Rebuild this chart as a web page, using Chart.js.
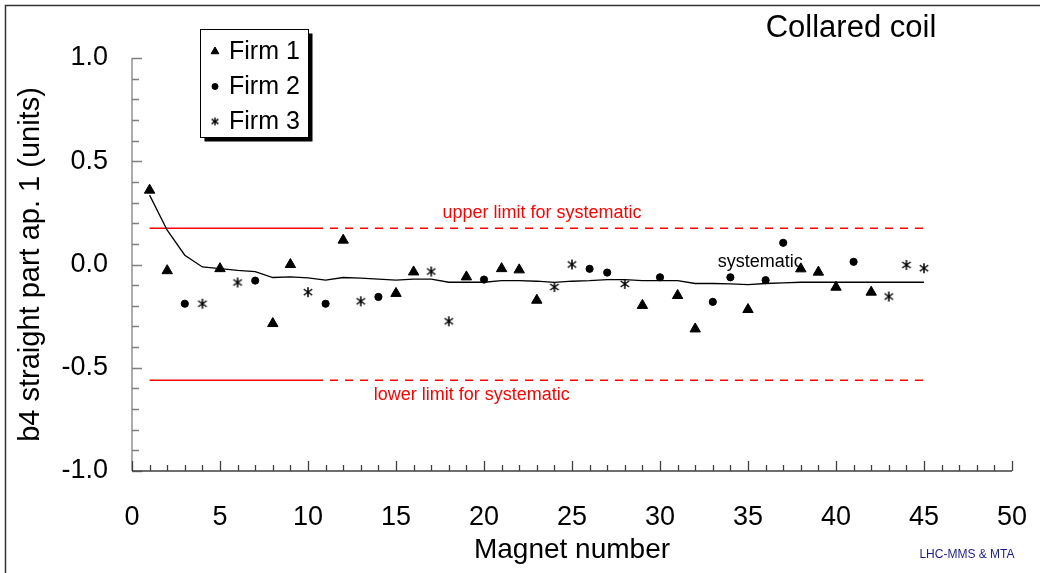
<!DOCTYPE html>
<html>
<head>
<meta charset="utf-8">
<script src="https://cdn.jsdelivr.net/npm/chart.js@4/dist/chart.umd.min.js"></script>
<style>
  html, body { margin: 0; padding: 0; background: #fff; }
  #wrap { width: 1040px; height: 573px; }
</style>
</head>
<body>
<div id="wrap"><canvas id="chart"></canvas></div>
<script>
// b4 per magnet, one pair of arrays per firm
const firm1Magnets = [1, 2, 5, 8, 9, 12, 15, 16, 19, 21, 22, 23, 29, 31, 32, 35, 38, 39, 40, 42];
const firm1B4 = [0.36, -0.03, -0.02, -0.286, 0.0, 0.118, -0.14, -0.036, -0.06, -0.02, -0.026, -0.173, -0.198, -0.15, -0.312, -0.218, -0.021, -0.037, -0.11, -0.134];

const firm2Magnets = [3, 7, 11, 14, 20, 26, 27, 30, 33, 34, 36, 37, 41];
const firm2B4 = [-0.19, -0.078, -0.19, -0.157, -0.073, -0.021, -0.039, -0.062, -0.181, -0.062, -0.076, 0.105, 0.013];

const firm3Magnets = [4, 6, 10, 13, 17, 18, 24, 25, 28, 43, 44, 45];
const firm3B4 = [-0.19, -0.087, -0.134, -0.178, -0.034, -0.275, -0.109, 0.0, -0.094, -0.155, -0.002, -0.018];

// running systematic (mean) curve
const systematicMagnets = [1, 2, 3, 4, 5, 6, 7, 8, 9, 10, 11, 12, 13, 14, 15, 16, 17, 18, 19, 20, 21, 22, 23,
  24, 25, 26, 27, 28, 29, 30, 31, 32, 33, 34, 35, 36, 37, 38, 39, 40, 41, 42, 43, 44, 45];
const systematicB4 = [0.336, 0.166, 0.045, -0.012, -0.02, -0.028, -0.034, -0.063, -0.06, -0.065, -0.076, -0.063,
  -0.066, -0.071, -0.076, -0.071, -0.071, -0.086, -0.086, -0.086, -0.078, -0.078, -0.081, -0.087, -0.081,
  -0.078, -0.073, -0.073, -0.078, -0.078, -0.078, -0.092, -0.092, -0.094, -0.097, -0.092, -0.089, -0.086,
  -0.086, -0.086, -0.086, -0.086, -0.086, -0.086, -0.086];

// limits for systematic
const upperLimit = 0.175;
const lowerLimit = -0.56;
const limitSolidMagnets = [1, 10.4];
const limitDashedMagnets = [10.4, 45];

const FONT = "'Liberation Sans', Arial, sans-serif";

function toPoints(xs, ys) {
  return xs.map((x, i) => ({ x: x, y: ys[i] }));
}

// asterisk marker used for Firm 3 (vertical bar plus an X)
function makeStar(size, lw) {
  const c = document.createElement("canvas");
  c.width = size;
  c.height = size;
  const g = c.getContext("2d");
  const m = size / 2;
  const r = size / 2 - 1;
  g.strokeStyle = "#000";
  g.lineWidth = lw;
  g.beginPath();
  g.moveTo(m, m - r);
  g.lineTo(m, m + r);
  g.moveTo(m - r * 0.85, m - r * 0.6);
  g.lineTo(m + r * 0.85, m + r * 0.6);
  g.moveTo(m + r * 0.85, m - r * 0.6);
  g.lineTo(m - r * 0.85, m + r * 0.6);
  g.stroke();
  return c;
}
const starMarker = makeStar(12, 1.5);
const starLegend = makeStar(10, 1.3);

// outer frame of the picture
const framePlugin = {
  id: "frame",
  beforeDraw(chart) {
    const ctx = chart.ctx;
    ctx.save();
    ctx.fillStyle = "#fff";
    ctx.fillRect(0, 0, chart.width, chart.height);
    ctx.strokeStyle = "#333";
    ctx.lineWidth = 1.5;
    ctx.beginPath();
    ctx.moveTo(5.5, chart.height);
    ctx.lineTo(5.5, 5.5);
    ctx.lineTo(chart.width, 5.5);
    ctx.stroke();
    ctx.restore();
  },
};

// axis lines with inward ticks
const axesPlugin = {
  id: "axesInside",
  beforeDatasetsDraw(chart) {
    const ctx = chart.ctx;
    const xs = chart.scales.x;
    const ys = chart.scales.y;
    const a = chart.chartArea;
    ctx.save();
    ctx.lineWidth = 1.3;

    ctx.strokeStyle = "#808080";
    ctx.beginPath();
    ctx.moveTo(a.left, a.top);
    ctx.lineTo(a.left, a.bottom);
    for (let k = -10; k <= 10; k++) {
      const py = Math.round(ys.getPixelForValue(k / 10)) + 0.5;
      const len = k % 5 === 0 ? 10 : 7;
      ctx.moveTo(a.left, py);
      ctx.lineTo(a.left + len, py);
    }
    ctx.stroke();

    ctx.strokeStyle = "#404040";
    ctx.beginPath();
    ctx.moveTo(a.left, a.bottom);
    ctx.lineTo(a.right, a.bottom);
    for (let k = 0; k <= 50; k++) {
      const px = Math.round(xs.getPixelForValue(k)) + 0.5;
      const len = k % 5 === 0 ? 10 : 6;
      ctx.moveTo(px, a.bottom);
      ctx.lineTo(px, a.bottom - len);
    }
    ctx.stroke();
    ctx.restore();
  },
};

// text notes on the plot
const notesPlugin = {
  id: "notes",
  afterDatasetsDraw(chart) {
    const ctx = chart.ctx;
    const xs = chart.scales.x;
    const ys = chart.scales.y;
    ctx.save();
    ctx.textAlign = "center";
    ctx.textBaseline = "middle";

    ctx.font = "18px " + FONT;
    ctx.fillStyle = "#ff0000";
    ctx.fillText("upper limit for systematic", xs.getPixelForValue(23.3), ys.getPixelForValue(0.249));
    ctx.fillText("lower limit for systematic", xs.getPixelForValue(19.3), ys.getPixelForValue(-0.634));

    ctx.fillStyle = "#000";
    ctx.fillText("systematic", xs.getPixelForValue(35.7), ys.getPixelForValue(0.013));

    ctx.font = "31px " + FONT;
    ctx.fillText("Collared coil", 851, 28);

    ctx.font = "12px " + FONT;
    ctx.fillStyle = "#1c1c8c";
    ctx.fillText("LHC-MMS & MTA", 967, 555);
    ctx.restore();
  },
};

// boxed legend with a drop shadow
const legendPlugin = {
  id: "boxLegend",
  afterDraw(chart) {
    const ctx = chart.ctx;
    const bx = 200.5, by = 29.5, bw = 108, bh = 108;
    ctx.save();
    ctx.fillStyle = "#000";
    ctx.fillRect(bx + 4, by + 4, bw, bh);
    ctx.fillStyle = "#fff";
    ctx.fillRect(bx, by, bw, bh);
    ctx.strokeStyle = "#000";
    ctx.lineWidth = 1;
    ctx.strokeRect(bx, by, bw, bh);

    const rows = [
      { label: "Firm 1", style: "triangle", radius: 4.5 },
      { label: "Firm 2", style: "circle", radius: 3 },
      { label: "Firm 3", style: starLegend, radius: 4.5 },
    ];
    ctx.font = "25px " + FONT;
    ctx.textBaseline = "middle";
    ctx.textAlign = "left";
    rows.forEach((r, i) => {
      const cy = 51.5 + i * 35;
      ctx.fillStyle = "#000";
      ctx.strokeStyle = "#000";
      Chart.helpers.drawPoint(ctx, { pointStyle: r.style, radius: r.radius, rotation: 0, borderWidth: 1 }, 215, cy);
      ctx.fillStyle = "#000";
      ctx.fillText(r.label, 229, cy + 1);
    });
    ctx.restore();
  },
};

const ctx = document.getElementById("chart");
new Chart(ctx, {
  type: "scatter",
  data: {
    datasets: [
      {
        label: "Firm 1",
        data: toPoints(firm1Magnets, firm1B4),
        pointStyle: "triangle",
        pointRadius: 6,
        backgroundColor: "#000",
        borderColor: "#000",
        borderWidth: 1,
      },
      {
        label: "Firm 2",
        data: toPoints(firm2Magnets, firm2B4),
        pointStyle: "circle",
        pointRadius: 3.6,
        backgroundColor: "#000",
        borderColor: "#000",
        borderWidth: 1,
      },
      {
        label: "Firm 3",
        data: toPoints(firm3Magnets, firm3B4),
        pointStyle: starMarker,
        pointRadius: 6,
      },
      {
        label: "systematic",
        data: toPoints(systematicMagnets, systematicB4),
        showLine: true,
        pointRadius: 0,
        borderColor: "#000",
        borderWidth: 1.3,
        tension: 0,
      },
      {
        label: "upper limit",
        data: toPoints(limitSolidMagnets, [upperLimit, upperLimit]),
        showLine: true,
        pointRadius: 0,
        borderColor: "#ff0000",
        borderWidth: 1.5,
      },
      {
        label: "upper limit dashed",
        data: toPoints(limitDashedMagnets, [upperLimit, upperLimit]),
        showLine: true,
        pointRadius: 0,
        borderColor: "#ff0000",
        borderWidth: 1.5,
        borderDash: [8, 7],
      },
      {
        label: "lower limit",
        data: toPoints(limitSolidMagnets, [lowerLimit, lowerLimit]),
        showLine: true,
        pointRadius: 0,
        borderColor: "#ff0000",
        borderWidth: 1.5,
      },
      {
        label: "lower limit dashed",
        data: toPoints(limitDashedMagnets, [lowerLimit, lowerLimit]),
        showLine: true,
        pointRadius: 0,
        borderColor: "#ff0000",
        borderWidth: 1.5,
        borderDash: [8, 7],
      },
    ],
  },
  options: {
    responsive: true,
    maintainAspectRatio: false,
    animation: false,
    layout: { padding: { top: 58, right: 28, left: 0, bottom: 0 } },
    plugins: {
      legend: { display: false },
      tooltip: { enabled: false },
    },
    scales: {
      x: {
        type: "linear",
        min: 0,
        max: 50,
        grid: { display: false, drawTicks: false },
        border: { display: false },
        ticks: {
          stepSize: 5,
          padding: 30,
          color: "#000",
          maxRotation: 0,
          autoSkip: false,
          font: { family: FONT, size: 27 },
        },
        title: {
          display: true,
          text: "Magnet number",
          color: "#000",
          font: { family: FONT, size: 28 },
          padding: { top: 0, bottom: 6 },
        },
        afterFit(scale) {
          scale.height = 102;
          scale.paddingLeft = 0;
          scale.paddingRight = 0;
        },
      },
      y: {
        type: "linear",
        min: -1,
        max: 1,
        grid: { display: false, drawTicks: false },
        border: { display: false },
        ticks: {
          stepSize: 0.5,
          padding: 24,
          color: "#000",
          font: { family: FONT, size: 27 },
          callback: (v) => v.toFixed(1),
        },
        title: {
          display: true,
          text: "b4 straight part ap. 1 (units)",
          color: "#000",
          font: { family: FONT, size: 29 },
          padding: { top: 14, bottom: 0 },
        },
        afterFit(scale) {
          scale.width = 132;
          scale.paddingTop = 0;
          scale.paddingBottom = 0;
        },
      },
    },
  },
  plugins: [framePlugin, axesPlugin, notesPlugin, legendPlugin],
});
</script>
</body>
</html>
